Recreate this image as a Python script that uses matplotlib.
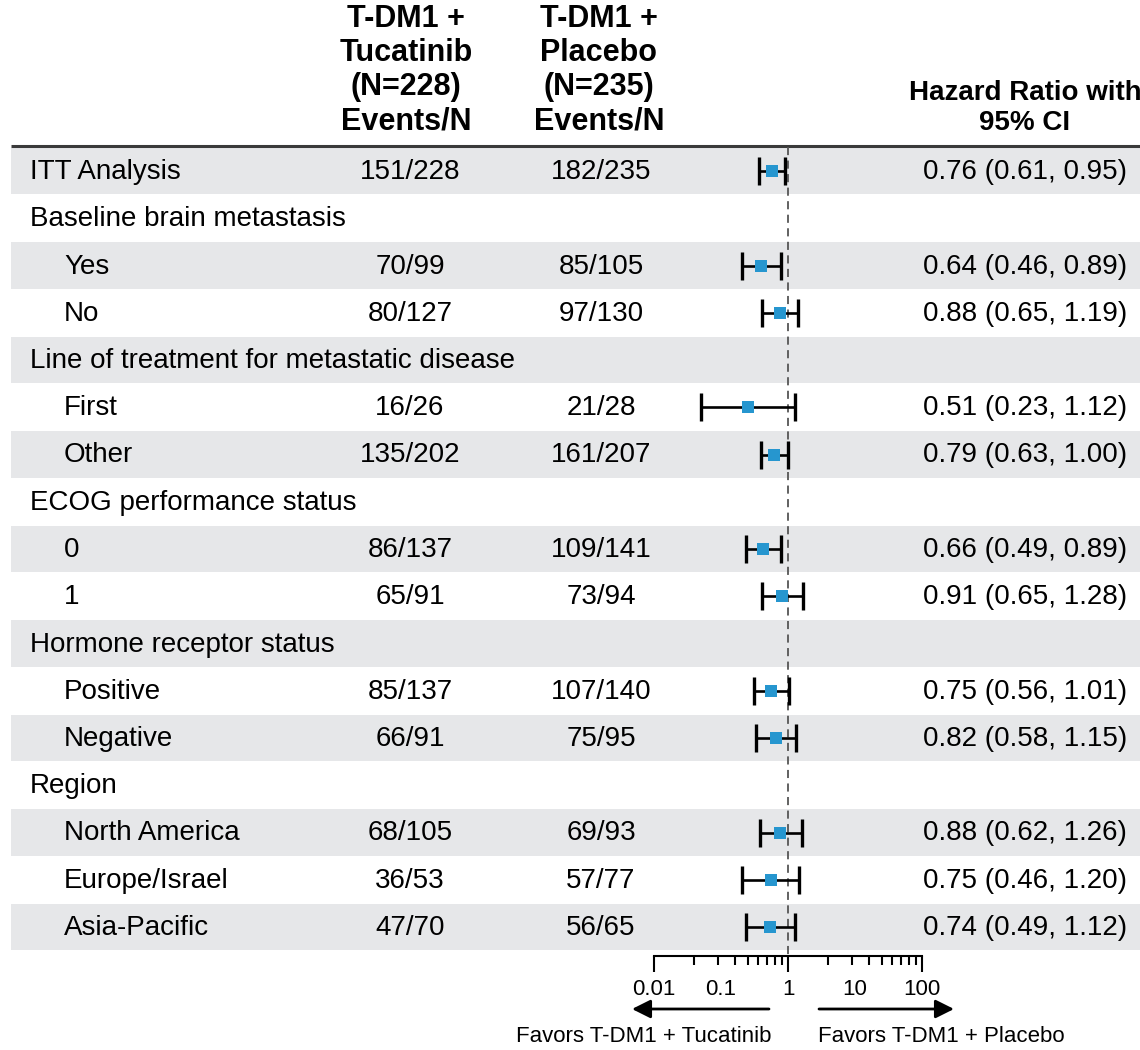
import numpy as np
import matplotlib
matplotlib.use("Agg")
import matplotlib.pyplot as plt

plt.rcParams['font.family'] = ['Liberation Sans', 'DejaVu Sans']

# subgroup table
labels = ["ITT Analysis", "Baseline brain metastasis", "Yes", "No",
          "Line of treatment for metastatic disease", "First", "Other",
          "ECOG performance status", "0", "1",
          "Hormone receptor status", "Positive", "Negative",
          "Region", "North America", "Europe/Israel", "Asia-Pacific"]
indent = [0, 0, 1, 1, 0, 1, 1, 0, 1, 1, 0, 1, 1, 0, 1, 1, 1]
tuc = ["151/228", "", "70/99", "80/127", "", "16/26", "135/202", "",
       "86/137", "65/91", "", "85/137", "66/91", "", "68/105", "36/53", "47/70"]
pla = ["182/235", "", "85/105", "97/130", "", "21/28", "161/207", "",
       "109/141", "73/94", "", "107/140", "75/95", "", "69/93", "57/77", "56/65"]
hr = [0.76, None, 0.64, 0.88, None, 0.51, 0.79, None, 0.66, 0.91,
      None, 0.75, 0.82, None, 0.88, 0.75, 0.74]
lo = [0.61, None, 0.46, 0.65, None, 0.23, 0.63, None, 0.49, 0.65,
      None, 0.56, 0.58, None, 0.62, 0.46, 0.49]
hi = [0.95, None, 0.89, 1.19, None, 1.12, 1.00, None, 0.89, 1.28,
      None, 1.01, 1.15, None, 1.26, 1.20, 1.12]

scale_ticks = [0.01, 0.1, 1, 10, 100]
scale_labels = ["0.01", "0.1", "1", "10", "100"]

W, H = 1140, 1050
fig = plt.figure(figsize=(W / 100, H / 100), dpi=100)

# pixel-space axes for table text and row bands
ax = fig.add_axes([0, 0, 1, 1])
ax.set_xlim(0, W)
ax.set_ylim(H, 0)
ax.axis('off')

band = '#e6e7e9'
y0, step = 171, 47.25
rows = y0 + step * np.arange(len(labels))
shaded = rows[::2]
ax.barh(shaded, W - 11, left=11, height=46.5, color=band, zorder=0)
ax.hlines(146, 11, W, color='#3a3a3a', lw=2.2, zorder=2)

fs = 20
for y, lab, ind, a, b, h, l, u in zip(rows, labels, indent, tuc, pla, hr, lo, hi):
    ax.text(30 + 34 * ind, y + 1, lab, fontsize=fs, va='center', ha='left')
    ax.text(410, y + 1, a, fontsize=fs, va='center', ha='center')
    ax.text(601, y + 1, b, fontsize=fs, va='center', ha='center')
    if h is not None:
        ax.text(1127, y + 1, "%.2f (%.2f, %.2f)" % (h, l, u), fontsize=fs,
                va='center', ha='right')

hdr = dict(fontsize=22, fontweight='bold', ha='center', va='bottom', linespacing=1.18)
ax.text(406, 136, "T-DM1 +\nTucatinib\n(N=228)\nEvents/N", **hdr)
ax.text(599, 136, "T-DM1 +\nPlacebo\n(N=235)\nEvents/N", **hdr)
ax.text(1025, 136, "Hazard Ratio with\n95% CI", fontsize=20, fontweight='bold',
        ha='center', va='bottom', linespacing=1.2)

# forest panel: log scale, HR=1 at x=788 px, 137 px per decade
ppd, x1 = 137.0, 788.0
fl, fr = 600, 1000
axf = fig.add_axes([fl / W, 0, (fr - fl) / W, 1])
axf.set_xscale('log')
axf.set_xlim(10 ** ((fl - x1) / ppd), 10 ** ((fr - x1) / ppd))
axf.set_ylim(H, 0)
axf.axis('off')
axf.patch.set_alpha(0)
axf.plot([1, 1], [147, 957], color='#555555', lw=1.3, dashes=(4.5, 3), zorder=1)

for y, h, l, u in zip(rows, hr, lo, hi):
    if h is None:
        continue
    axf.errorbar([h], [y], xerr=[[h - l], [u - h]], fmt='none', ecolor='black',
                 elinewidth=1.9, capsize=10, capthick=2.4, zorder=3)
    axf.plot([h], [y], marker='s', markersize=9, color='#2696cf',
             markeredgewidth=0, zorder=4)

# scale bar under the panel
axb = fig.add_axes([654 / W, 1 - 956 / H, (922 - 654) / W, 0.0001])
axb.set_xscale('log')
axb.set_xlim(0.01, 100)
for s in ['top', 'left', 'right']:
    axb.spines[s].set_visible(False)
axb.spines['bottom'].set_linewidth(1.5)
axb.set_yticks([])
axb.set_xticks(scale_ticks)
axb.set_xticklabels(scale_labels, fontsize=16)
minor = [0.01 * k ** 2 for k in range(2, 10)] + [k ** 2 for k in range(2, 10)]
axb.set_xticks(minor, minor=True)
axb.xaxis.set_minor_formatter(matplotlib.ticker.NullFormatter())
axb.tick_params(axis='x', which='major', length=11.5, width=1.5, pad=5)
axb.tick_params(axis='x', which='minor', length=6.5, width=1.5)
for i in [1, 3]:
    axb.xaxis.get_major_ticks()[i].tick1line.set_visible(False)
axb.patch.set_alpha(0)

arr = dict(arrowstyle='-|>', color='black', lw=2, mutation_scale=28,
           shrinkA=0, shrinkB=0)
ax.annotate("", xy=(632, 1009), xytext=(769, 1009), arrowprops=arr)
ax.annotate("", xy=(954, 1009), xytext=(819, 1009), arrowprops=arr)
ax.text(644, 1037, "Favors T-DM1 + Tucatinib", fontsize=16, ha='center', va='center')
ax.text(941, 1037, "Favors T-DM1 + Placebo", fontsize=16, ha='center', va='center')

fig.savefig('out.png', dpi=100)
